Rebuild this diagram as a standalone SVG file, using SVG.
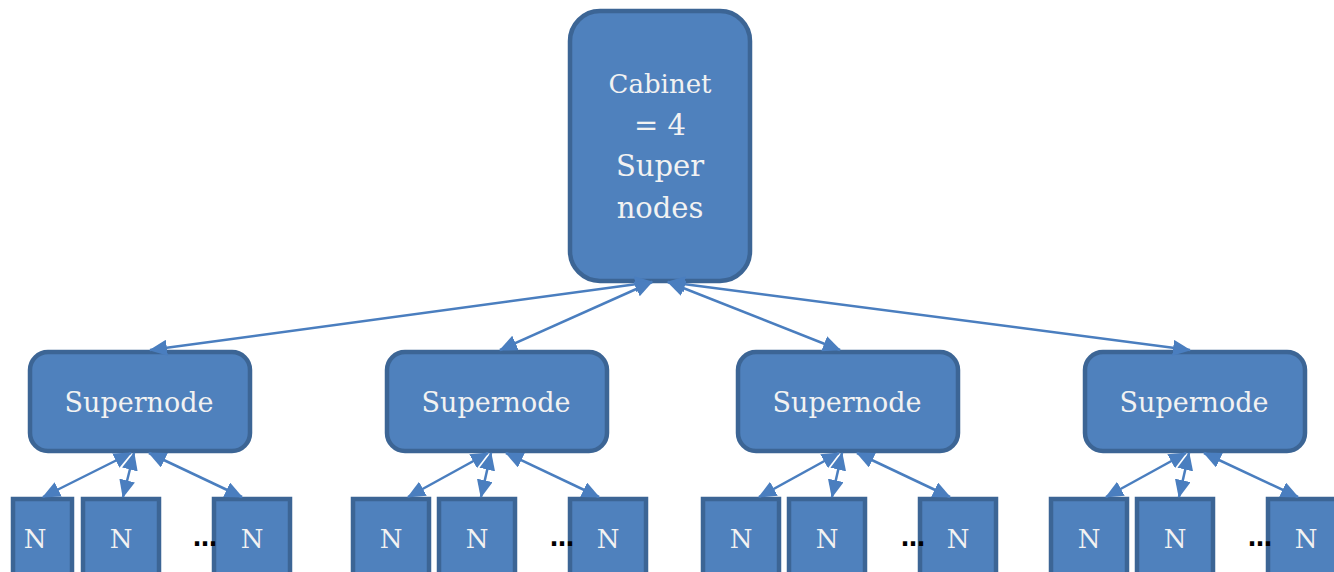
<svg xmlns="http://www.w3.org/2000/svg" width="1334" height="572" viewBox="0 0 1334 572">
<style>
.box{fill:#4f81bd;stroke:#3c6595;stroke-width:4.5}
.t{font-family:"DejaVu Serif","Liberation Serif",serif;fill:#f2f2f2;text-anchor:middle}
.sn{font-size:27px}
.n{font-size:26px}
.cab{font-size:29px}
.dots{font-family:"DejaVu Sans",sans-serif;font-size:24px;font-weight:bold;fill:#000;text-anchor:middle}
.c{stroke:#4a7ebf;stroke-width:2.5;fill:none;marker-start:url(#ah);marker-end:url(#ah)}
</style>
<defs>
<marker id="ah" viewBox="0 0 18 16" refX="17" refY="8" markerWidth="18" markerHeight="16" markerUnits="userSpaceOnUse" orient="auto-start-reverse">
<path d="M0,0 L18,8 L0,16 z" fill="#4a7ebf"/>
</marker>
</defs>
<rect width="1334" height="572" fill="#fff"/>
<g id="cabinet">
<rect class="box" x="570" y="11" width="180" height="270" rx="30"/>
<text class="t" x="660" y="93" font-size="26">Cabinet</text>
<text class="t cab" x="660" y="135">= 4</text>
<text class="t cab" x="660" y="176">Super</text>
<text class="t cab" x="660" y="218">nodes</text>
</g>
<g id="supernode1">
<rect class="box" x="30" y="352" width="220" height="99" rx="18"/>
<text class="t sn" x="139" y="412">Supernode</text>
</g>
<g id="supernode2">
<rect class="box" x="387" y="352" width="220" height="99" rx="18"/>
<text class="t sn" x="496" y="412">Supernode</text>
</g>
<g id="supernode3">
<rect class="box" x="738" y="352" width="220" height="99" rx="18"/>
<text class="t sn" x="847" y="412">Supernode</text>
</g>
<g id="supernode4">
<rect class="box" x="1085" y="352" width="220" height="99" rx="18"/>
<text class="t sn" x="1194" y="412">Supernode</text>
</g>
<g id="nodes1">
<rect class="box" x="13" y="499" width="59" height="90"/><text class="t n" x="35" y="548">N</text>
<rect class="box" x="83" y="499" width="76" height="90"/><text class="t n" x="121" y="548">N</text>
<rect class="box" x="214" y="499" width="76" height="90"/><text class="t n" x="252" y="548">N</text>
<text class="dots" x="205" y="546">…</text>
</g>
<g id="nodes2">
<rect class="box" x="353" y="499" width="76" height="90"/><text class="t n" x="391" y="548">N</text>
<rect class="box" x="439" y="499" width="76" height="90"/><text class="t n" x="477" y="548">N</text>
<rect class="box" x="570" y="499" width="76" height="90"/><text class="t n" x="608" y="548">N</text>
<text class="dots" x="562" y="546">…</text>
</g>
<g id="nodes3">
<rect class="box" x="703" y="499" width="76" height="90"/><text class="t n" x="741" y="548">N</text>
<rect class="box" x="789" y="499" width="76" height="90"/><text class="t n" x="827" y="548">N</text>
<rect class="box" x="920" y="499" width="76" height="90"/><text class="t n" x="958" y="548">N</text>
<text class="dots" x="913" y="546">…</text>
</g>
<g id="nodes4">
<rect class="box" x="1051" y="499" width="76" height="90"/><text class="t n" x="1089" y="548">N</text>
<rect class="box" x="1137" y="499" width="76" height="90"/><text class="t n" x="1175" y="548">N</text>
<rect class="box" x="1268" y="499" width="76" height="90"/><text class="t n" x="1306" y="548">N</text>
<text class="dots" x="1260" y="546">…</text>
</g>
<g id="connectors">
<line class="c" x1="652" y1="282" x2="150" y2="350"/>
<line class="c" x1="652" y1="282" x2="500" y2="350"/>
<line class="c" x1="668" y1="282" x2="840" y2="350"/>
<line class="c" x1="668" y1="282" x2="1190" y2="350"/>
<line class="c" x1="131" y1="453" x2="43" y2="497"/>
<line class="c" x1="134" y1="453" x2="123" y2="497"/>
<line class="c" x1="149" y1="453" x2="242" y2="497"/>
<line class="c" x1="488" y1="453" x2="408" y2="497"/>
<line class="c" x1="491" y1="453" x2="481" y2="497"/>
<line class="c" x1="506" y1="453" x2="599" y2="497"/>
<line class="c" x1="839" y1="453" x2="759" y2="497"/>
<line class="c" x1="842" y1="453" x2="832" y2="497"/>
<line class="c" x1="857" y1="453" x2="950" y2="497"/>
<line class="c" x1="1186" y1="453" x2="1106" y2="497"/>
<line class="c" x1="1189" y1="453" x2="1179" y2="497"/>
<line class="c" x1="1204" y1="453" x2="1298" y2="497"/>
</g>
</svg>
